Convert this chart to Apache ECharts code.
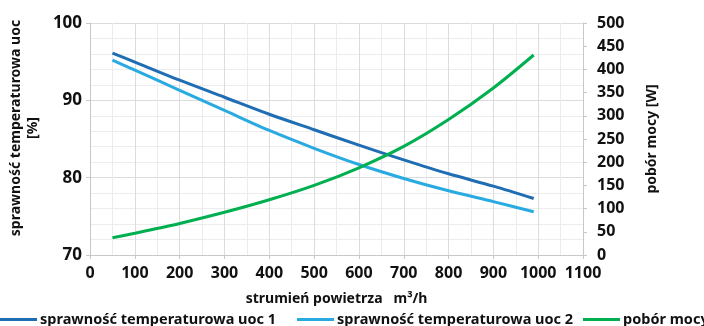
<!DOCTYPE html>
<html><head><meta charset="utf-8">
<script src="https://cdn.jsdelivr.net/npm/echarts@6/dist/echarts.min.js"></script>
<style>html,body{margin:0;padding:0;background:#fff}#c{width:704px;height:326px}</style>
</head><body><div id="c"></div>
<script>
const flowX = [50, 100, 200, 300, 400, 500, 600, 700, 800, 900, 990];
const eff1 = [96.1, 94.95, 92.6, 90.4, 88.2, 86.2, 84.2, 82.3, 80.5, 78.9, 77.3];
const eff2 = [95.2, 93.9, 91.3, 88.7, 86.1, 83.8, 81.7, 79.9, 78.3, 76.9, 75.6];
const power = [37, 47, 68, 92, 119, 150, 188, 234, 292, 360, 431];
const names = ['sprawność temperaturowa uoc 1', 'sprawność temperaturowa uoc 2', 'pobór mocy'];
const xTitle = 'strumień powietrza   m³/h';
const yLeftTitle = 'sprawność temperaturowa uoc\n[%]';
const yRightTitle = 'pobór mocy [W]';

const FONT = 'Noto Sans';
const toPairs = (xs, ys) => xs.map((x, i) => [x, ys[i]]);
const chart = echarts.init(document.getElementById('c'));
const lineStyleBase = {width: 3};
const txt = (size, extra) => Object.assign({fontFamily: FONT, fontWeight: 'bold', fontSize: size, color: '#111'}, extra || {});
const legendAt = (left, name) => ({
  bottom: -1, left: left, itemWidth: 37, itemHeight: 3, itemGap: 20,
  icon: 'rect', textStyle: txt(14.5, {padding: [0, 0, 0, -2]}), data: [name], padding: 0
});
chart.setOption({
  animation: false,
  textStyle: {fontFamily: FONT, fontWeight: 'bold', color: '#111'},
  grid: {left: 83, right: 121, top: 23, bottom: 71},
  legend: [legendAt(0, names[0]), legendAt(297, names[1]), legendAt(583, names[2])],
  xAxis: {
    type: 'value', min: 0, max: 1100, interval: 100,
    name: xTitle, nameLocation: 'middle', nameGap: 37,
    nameTextStyle: txt(14),
    axisLine: {show: true, lineStyle: {color: '#c8c8c8'}},
    axisTick: {show: true, length: 4, lineStyle: {color: '#c8c8c8'}},
    axisLabel: txt(16, {margin: 10, formatter: v => String(v)}),
    splitLine: {show: true, lineStyle: {color: '#dcdcdc'}},
    minorTick: {show: false, splitNumber: 2},
    minorSplitLine: {show: true, lineStyle: {color: '#ececec'}}
  },
  yAxis: [{
    type: 'value', min: 70, max: 100, interval: 10,
    name: yLeftTitle, nameLocation: 'middle', nameGap: 38, nameRotate: 90,
    nameTextStyle: txt(14, {lineHeight: 17, padding: [0, 0, 0, 22]}),
    axisLine: {show: true, lineStyle: {color: '#c8c8c8'}},
    axisTick: {show: true, length: 4, lineStyle: {color: '#c8c8c8'}},
    axisLabel: txt(17, {margin: 8}),
    splitLine: {show: true, lineStyle: {color: '#dcdcdc'}},
    minorTick: {show: false, splitNumber: 5},
    minorSplitLine: {show: true, lineStyle: {color: '#ececec'}}
  }, {
    type: 'value', min: 0, max: 500, interval: 50, position: 'right',
    name: yRightTitle, nameLocation: 'middle', nameGap: 62, nameRotate: 90,
    nameTextStyle: txt(14),
    axisLine: {show: true, lineStyle: {color: '#c8c8c8'}},
    axisTick: {show: true, length: 4, lineStyle: {color: '#c8c8c8'}},
    axisLabel: txt(16, {margin: 14}),
    splitLine: {show: false}
  }],
  series: [{
    name: names[0], type: 'line', yAxisIndex: 0, smooth: 0.3, symbol: 'none',
    data: toPairs(flowX, eff1), color: '#1f6eb4', lineStyle: lineStyleBase
  }, {
    name: names[1], type: 'line', yAxisIndex: 0, smooth: 0.3, symbol: 'none',
    data: toPairs(flowX, eff2), color: '#29abe2', lineStyle: lineStyleBase
  }, {
    name: names[2], type: 'line', yAxisIndex: 1, smooth: 0.3, symbol: 'none',
    data: toPairs(flowX, power), color: '#00b050', lineStyle: lineStyleBase
  }]
});
</script></body></html>
